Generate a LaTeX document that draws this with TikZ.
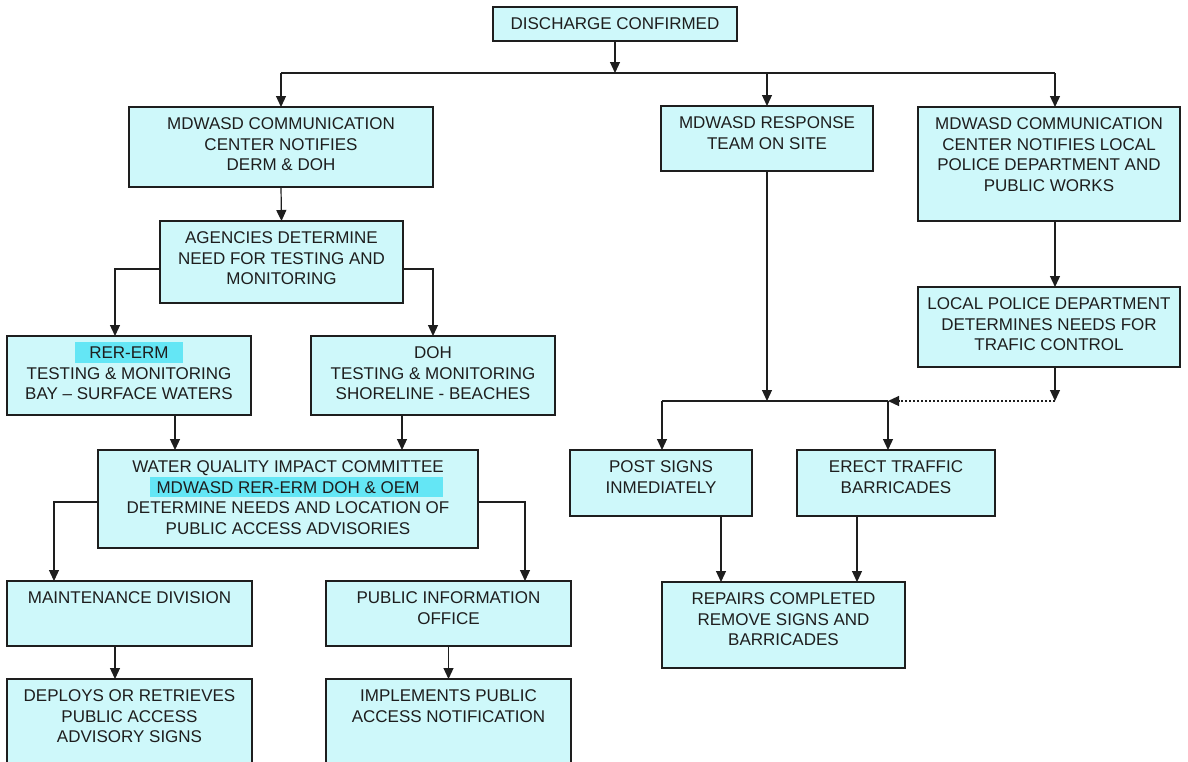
\documentclass[tikz,border=0pt]{standalone}
\usepackage{fontspec}
\setmainfont{Liberation Sans}
\usetikzlibrary{arrows.meta}
\definecolor{boxfill}{RGB}{206,248,250}
\definecolor{hl}{RGB}{100,230,245}
\definecolor{ink}{RGB}{30,30,30}
\tikzset{
  box/.style={draw=ink, fill=boxfill, line width=1.2pt, inner sep=0pt, outer sep=0pt, rectangle},
  txt/.style={text=ink, font=\fontsize{17}{20.5}\selectfont, align=center, inner sep=0pt, outer sep=0pt},
  conn/.style={draw=ink, line width=1.2pt},
  arr/.style={conn, -{Triangle[length=11pt,width=10pt]}},
  dotarr/.style={arr, dash pattern=on 2pt off 2pt},
}
\newcommand{\mybox}[5]{%
  \node[box, anchor=north west, minimum width={#4pt-#2pt}, minimum height={#5pt-#3pt}] (#1) at (#2pt,-#3pt) {};}
\begin{document}
\begin{tikzpicture}
\useasboundingbox (0,0) rectangle (1188pt,-761pt);
\fill[white] (0,0) rectangle (1188pt,-761pt);
\clip (0,0) rectangle (1188pt,-761pt);
% boxes
\mybox{dc}{493}{7}{737}{41}
\mybox{b2}{129}{107}{433}{187}
\mybox{b3}{661}{106}{873}{171}
\mybox{b4}{918}{107}{1180}{221}
\mybox{ag}{160}{221}{403}{303}
\mybox{rer}{7}{336}{251}{415}
\mybox{doh}{311}{336}{555}{415}
\mybox{pol}{918}{287}{1180}{367}
\mybox{wq}{98}{450}{478}{548}
\mybox{post}{570}{450}{752}{516}
\mybox{erect}{797}{450}{995}{516}
\mybox{maint}{7}{581}{252}{646}
\mybox{pio}{326}{581}{571}{646}
\mybox{rep}{662}{582}{905}{668}
\mybox{dep}{7}{679}{252}{775}
\mybox{imp}{326}{679}{571}{775}
% highlights
\fill[hl] (75pt,-342pt) rectangle (183pt,-363pt);
\fill[hl] (150pt,-477pt) rectangle (443pt,-497pt);
% texts
\node[txt, anchor=north] (dct) at ([yshift=-11pt]dc.north) {DISCHARGE CONFIRMED};
\node[txt, anchor=north] (b2t) at ([yshift=-11pt]b2.north) {MDWASD COMMUNICATION\\CENTER NOTIFIES\\DERM \& DOH};
\node[txt, anchor=north] (b3t) at ([yshift=-11pt]b3.north) {MDWASD RESPONSE\\TEAM ON SITE};
\node[txt, anchor=north] (b4t) at ([yshift=-11pt]b4.north) {MDWASD COMMUNICATION\\CENTER NOTIFIES LOCAL\\POLICE DEPARTMENT AND\\PUBLIC WORKS};
\node[txt, anchor=north] (agt) at ([yshift=-11pt]ag.north) {AGENCIES DETERMINE\\NEED FOR TESTING AND\\MONITORING};
\node[txt, anchor=north] (rert) at ([yshift=-11pt]rer.north) {RER-ERM\\TESTING \& MONITORING\\BAY – SURFACE WATERS};
\node[txt, anchor=north] (doht) at ([yshift=-11pt]doh.north) {DOH\\TESTING \& MONITORING\\SHORELINE - BEACHES};
\node[txt, anchor=north] (polt) at ([yshift=-11pt]pol.north) {LOCAL POLICE DEPARTMENT\\DETERMINES NEEDS FOR\\TRAFIC CONTROL};
\node[txt, anchor=north] (wqt) at ([yshift=-11pt]wq.north) {WATER QUALITY IMPACT COMMITTEE\\MDWASD RER-ERM DOH \& OEM\\DETERMINE NEEDS AND LOCATION OF\\PUBLIC ACCESS ADVISORIES};
\node[txt, anchor=north] (postt) at ([yshift=-11pt]post.north) {POST SIGNS\\INMEDIATELY};
\node[txt, anchor=north] (erectt) at ([yshift=-11pt]erect.north) {ERECT TRAFFIC\\BARRICADES};
\node[txt, anchor=north] (maintt) at ([yshift=-11pt]maint.north) {MAINTENANCE DIVISION};
\node[txt, anchor=north] (piot) at ([yshift=-11pt]pio.north) {PUBLIC INFORMATION\\OFFICE};
\node[txt, anchor=north] (rept) at ([yshift=-11pt]rep.north) {REPAIRS COMPLETED\\REMOVE SIGNS AND\\BARRICADES};
\node[txt, anchor=north] (dept) at ([yshift=-11pt]dep.north) {DEPLOYS OR RETRIEVES\\PUBLIC ACCESS\\ADVISORY SIGNS};
\node[txt, anchor=north] (impt) at ([yshift=-11pt]imp.north) {IMPLEMENTS PUBLIC\\ACCESS NOTIFICATION};
% junction coordinates
\coordinate (busL) at (281pt,-73pt);
\coordinate (busR) at (1055pt,-73pt);
\coordinate (agL) at (115pt,-269pt);
\coordinate (agR) at (433pt,-269pt);
\coordinate (wqA) at (175pt,0pt);
\coordinate (wqB) at (402pt,0pt);
\coordinate (wqL) at (54pt,-502pt);
\coordinate (wqR) at (525pt,-502pt);
\coordinate (depA) at (115pt,0pt);
\coordinate (bus2L) at (662pt,-401pt);
\coordinate (bus2R) at (888pt,-401pt);
\coordinate (polB) at (1055pt,-401pt);
\coordinate (repA) at (721pt,0pt);
\coordinate (repB) at (857pt,0pt);
% connectors
\draw[arr] (dc.south) -- (dc.south |- busL);
\draw[conn] (busL) -- (busR);
\draw[arr] (busL) -- (b2.north);
\draw[arr] (b3.north |- busL) -- (b3.north);
\draw[arr] (busR) -- (busR |- b4.north);
\draw[arr] (b2.south) -- (ag.north);
\draw[arr] (ag.west |- agL) -- (agL) -- (agL |- rer.north);
\draw[arr] (ag.east |- agR) -- (agR) -- (agR |- doh.north);
\draw[arr] (wqA |- rer.south) -- (wqA |- wq.north);
\draw[arr] (wqB |- doh.south) -- (wqB |- wq.north);
\draw[arr] (wq.west |- wqL) -- (wqL) -- (wqL |- maint.north);
\draw[arr] (wq.east |- wqR) -- (wqR) -- (wqR |- pio.north);
\draw[arr] (depA |- maint.south) -- (depA |- dep.north);
\draw[arr] (pio.south) -- (imp.north);
\draw[arr] (b3.south) -- (b3.south |- bus2L);
\draw[conn] (bus2L) -- (bus2R);
\draw[arr] (bus2L) -- (bus2L |- post.north);
\draw[arr] (bus2R) -- (bus2R |- erect.north);
\draw[arr] (busR |- b4.south) -- (busR |- pol.north);
\draw[arr] (busR |- pol.south) -- (polB);
\draw[dotarr] (polB) -- (bus2R);
\draw[arr] (repA |- post.south) -- (repA |- rep.north);
\draw[arr] (repB |- erect.south) -- (repB |- rep.north);
\end{tikzpicture}
\end{document}
